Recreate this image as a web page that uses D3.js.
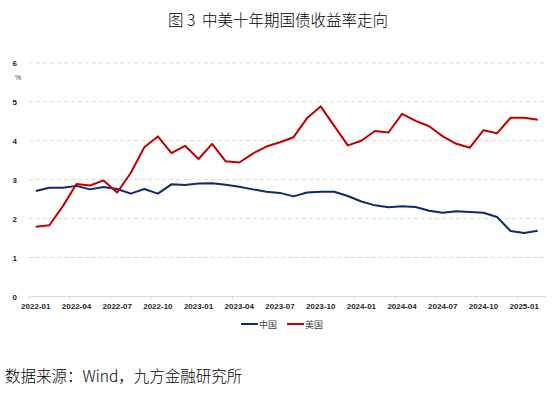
<!DOCTYPE html>
<html>
<head>
<meta charset="utf-8">
<script src="https://cdn.jsdelivr.net/npm/d3@7"></script>
<style>
  body { margin: 0; background: #fff; }
  svg { display: block; }
</style>
</head>
<body>
<div id="chart"></div>
<script>
const CHINA_COLOR = "#0E2A6B";
const US_COLOR = "#C00000";

const months = [
    "2022-01", "2022-02", "2022-03", "2022-04", "2022-05", "2022-06",
    "2022-07", "2022-08", "2022-09", "2022-10", "2022-11", "2022-12",
    "2023-01", "2023-02", "2023-03", "2023-04", "2023-05", "2023-06",
    "2023-07", "2023-08", "2023-09", "2023-10", "2023-11", "2023-12",
    "2024-01", "2024-02", "2024-03", "2024-04", "2024-05", "2024-06",
    "2024-07", "2024-08", "2024-09", "2024-10", "2024-11", "2024-12",
    "2025-01", "2025-02"
];

const chinaYield = [
    2.71, 2.79, 2.79, 2.84, 2.75, 2.81, 2.76, 2.64, 2.76, 2.64, 2.88, 2.86,
    2.90, 2.91, 2.87, 2.82, 2.75, 2.69, 2.66, 2.57, 2.67, 2.69, 2.69, 2.58,
    2.44, 2.34, 2.29, 2.32, 2.30, 2.20, 2.15, 2.19, 2.17, 2.15, 2.04, 1.68,
    1.63, 1.69
];

const usYield = [
    1.79, 1.83, 2.32, 2.89, 2.85, 2.98, 2.67, 3.17, 3.83, 4.11, 3.68, 3.87,
    3.53, 3.92, 3.47, 3.44, 3.67, 3.85, 3.96, 4.09, 4.58, 4.88, 4.38, 3.88,
    4.00, 4.25, 4.21, 4.69, 4.51, 4.37, 4.11, 3.92, 3.82, 4.27, 4.19, 4.59,
    4.59, 4.54
];

const yTicks = [0, 1, 2, 3, 4, 5, 6];

const series = [
    { name: "中国", values: chinaYield, color: CHINA_COLOR },
    { name: "美国", values: usYield, color: US_COLOR }
];

const width = 556;
const height = 393;

const svg = d3.select("#chart")
    .append("svg")
    .attr("width", width)
    .attr("height", height);

const x = d3.scaleBand()
    .domain(months)
    .range([29, 544.5])
    .paddingInner(0)
    .paddingOuter(0);

const y = d3.scaleLinear()
    .domain([0, 6])
    .range([296.5, 62.8]);

// title
svg.append("text")
    .attr("x", 278)
    .attr("y", 26)
    .attr("text-anchor", "middle")
    .style("white-space", "pre")
    .attr("font-family", "Noto Sans CJK SC")
    .attr("font-weight", 300)
    .attr("font-size", 15.5)
    .attr("fill", "#000")
    .text("图 3  中美十年期国债收益率走向");

// grid lines
svg.append("g")
    .selectAll("line")
    .data(yTicks.filter(d => d > 0))
    .join("line")
    .attr("x1", 29)
    .attr("x2", 546)
    .attr("y1", d => y(d))
    .attr("y2", d => y(d))
    .attr("stroke", "#d9d9d9")
    .attr("stroke-width", 1)
    .attr("stroke-dasharray", "4,3");

// y axis labels
const yAxis = d3.axisLeft(y)
    .tickValues(yTicks)
    .tickFormat(d3.format("d"))
    .tickSize(0)
    .tickPadding(0);

svg.append("g")
    .attr("transform", "translate(17,0)")
    .call(yAxis)
    .call(g => g.select(".domain").remove())
    .selectAll("text")
    .attr("font-family", "Liberation Sans")
    .attr("font-weight", "bold")
    .attr("font-size", 8)
    .attr("fill", "#262626");

svg.append("text")
    .attr("x", 18)
    .attr("y", 80)
    .attr("text-anchor", "middle")
    .attr("font-family", "Liberation Sans")
    .attr("font-size", 7)
    .attr("fill", "#404040")
    .text("%");

// x axis
svg.append("line")
    .attr("x1", 29)
    .attr("x2", 546)
    .attr("y1", y(0))
    .attr("y2", y(0))
    .attr("stroke", "#d9d9d9")
    .attr("stroke-width", 1);

const labelMonths = months.filter((m, i) => i % 3 === 0);

svg.append("g")
    .selectAll("line")
    .data(labelMonths)
    .join("line")
    .attr("x1", d => x(d))
    .attr("x2", d => x(d))
    .attr("y1", y(0))
    .attr("y2", y(0) + 3)
    .attr("stroke", "#d9d9d9");

const xAxis = d3.axisBottom(x)
    .tickValues(labelMonths)
    .tickSize(0)
    .tickPadding(7);

svg.append("g")
    .attr("transform", "translate(0," + y(0) + ")")
    .call(xAxis)
    .call(g => g.select(".domain").remove())
    .selectAll("text")
    .attr("font-family", "Liberation Sans")
    .attr("font-weight", "bold")
    .attr("font-size", 8)
    .attr("fill", "#262626");

// lines
const line = d3.line()
    .x((d, i) => x(months[i]) + x.bandwidth() / 2)
    .y(d => y(d));

svg.append("g")
    .selectAll("path")
    .data(series)
    .join("path")
    .attr("d", d => line(d.values))
    .attr("fill", "none")
    .attr("stroke", d => d.color)
    .attr("stroke-width", 2)
    .attr("stroke-linejoin", "round");

// legend
const legend = svg.append("g")
    .selectAll("g")
    .data(series)
    .join("g")
    .attr("transform", (d, i) => "translate(" + (241 + i * 46) + ",324)");

legend.append("line")
    .attr("x1", 0)
    .attr("x2", 17)
    .attr("stroke", d => d.color)
    .attr("stroke-width", 2);

legend.append("text")
    .attr("x", 18)
    .attr("y", 3.5)
    .attr("font-family", "Noto Sans CJK SC")
    .attr("font-size", 9)
    .attr("fill", "#404040")
    .text(d => d.name);

// source
svg.append("text")
    .attr("x", 5)
    .attr("y", 382)
    .attr("font-family", "Noto Sans CJK SC")
    .attr("font-weight", 300)
    .attr("font-size", 15.5)
    .attr("fill", "#000")
    .text("数据来源：Wind，九方金融研究所");
</script>
</body>
</html>
